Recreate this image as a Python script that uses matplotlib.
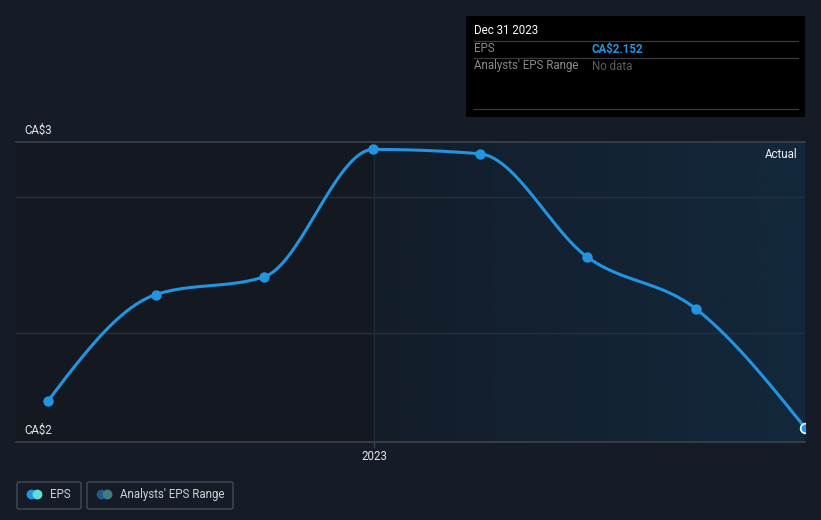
import numpy as np
import matplotlib
matplotlib.use("Agg")
import matplotlib.pyplot as plt
import matplotlib.dates as mdates
from datetime import datetime
from matplotlib.patches import Rectangle, FancyBboxPatch, Circle
from matplotlib.colors import LinearSegmentedColormap

plt.rcParams['font.family'] = ['Roboto', 'DejaVu Sans']

# ---- data ----
dates = ["2022-03-31", "2022-06-30", "2022-09-30", "2022-12-31",
         "2023-03-31", "2023-06-30", "2023-09-30", "2023-12-31"]
eps = [2.25, 2.641, 2.707, 3.175, 3.159, 2.779, 2.588, 2.152]
tick_labels = ["2023"]
y_labels = ["CA$3", "CA$2"]

W, H = 821, 520
fig = plt.figure(figsize=(W / 100, H / 100), dpi=100)
fig.patch.set_facecolor("#161c27")

def fx(px):
    return px / W
def fy(py):
    return 1 - py / H

L, R, T, B = 16, 805, 142, 442
ax = fig.add_axes([fx(L), fy(B), (R - L) / W, (B - T) / H])
ax.set_facecolor("#141921")

xd = np.array([mdates.date2num(datetime.strptime(d, "%Y-%m-%d")) for d in dates])
yv = np.array(eps)

xmin = mdates.date2num(datetime(2022, 3, 4))
xmax = mdates.date2num(datetime(2023, 12, 31))
ymin, ymax = 2.0993, 3.2022
ax.set_xlim(xmin, xmax)
ax.set_ylim(ymin, ymax)

# shaded "actual" region with gradient
x23 = mdates.date2num(datetime(2023, 1, 1))
grad = np.linspace(0, 1, 256).reshape(1, -1)
cmap = LinearSegmentedColormap.from_list("g", ["#131d2a", "#13283c"])
ax.imshow(grad, extent=[x23, xmax, ymin, ymax], aspect="auto", cmap=cmap, zorder=0.5)
ax.axvline(x23, color="#1f2a36", lw=1, zorder=0.6)

# gridlines
for v in [2.5, 3.0]:
    ax.axhline(v, color="#27303b", lw=1, zorder=0.7)
ax.axhline(ymax, color="#3d434c", lw=1.2, zorder=0.8, clip_on=False)
ax.axhline(ymin, color="#3d434c", lw=1.2, zorder=0.8, clip_on=False)

# monotone cubic (d3 monotoneX)
n = len(xd)
h = np.diff(xd)
s = np.diff(yv) / h
t = np.zeros(n)
for i in range(1, n - 1):
    p = (s[i - 1] * h[i] + s[i] * h[i - 1]) / (h[i - 1] + h[i])
    t[i] = (np.sign(s[i - 1]) + np.sign(s[i])) * min(abs(s[i - 1]), abs(s[i]), 0.5 * abs(p))
t[0] = (3 * s[0] - t[1]) / 2
t[-1] = (3 * s[-1] - t[-2]) / 2
xs, ys = [], []
for i in range(n - 1):
    u = np.linspace(0, 1, 60)
    h00 = 2 * u**3 - 3 * u**2 + 1
    h10 = u**3 - 2 * u**2 + u
    h01 = -2 * u**3 + 3 * u**2
    h11 = u**3 - u**2
    xs.append(xd[i] + u * h[i])
    ys.append(h00 * yv[i] + h10 * h[i] * t[i] + h01 * yv[i + 1] + h11 * h[i] * t[i + 1])
xs = np.concatenate(xs)
ys = np.concatenate(ys)

blue = "#2394df"
ax.plot(xs, ys, color=blue, lw=2.2, zorder=3, solid_capstyle="round")
ax.plot(xd[:-1], yv[:-1], "o", color=blue, ms=6.5, zorder=4)
last, = ax.plot(xd[-1:], yv[-1:], "o", color=blue, mec="white", mew=1.2, ms=7, zorder=5)
clip_rect = Rectangle((0, 0), 1, 1, transform=ax.transAxes)
last.set_clip_path(clip_rect)

ax.set_xticks([x23])
ax.set_xticklabels(tick_labels)
ax.tick_params(axis="x", colors="#3d434c", labelcolor="#e6e6e6", length=4, width=1, labelsize=8.3, pad=2)
ax.set_yticks([])
for sp in ax.spines.values():
    sp.set_visible(False)

# y labels
fig.text(fx(24), fy(130), y_labels[0], color="#e6e6e6", fontsize=8.3, va="center", ha="left")
fig.text(fx(24), fy(430), y_labels[1], color="#e6e6e6", fontsize=8.3, va="center", ha="left")
fig.text(fx(797), fy(154), "Actual", color="#f0f0f0", fontsize=8.3, va="center", ha="right")

# tooltip
fig.patches.append(Rectangle((fx(466), fy(117)), (805 - 466) / W, (117 - 16) / H,
                             transform=fig.transFigure, facecolor="#000000", edgecolor="none", zorder=10))
for yy in [41, 58, 109]:
    fig.lines.append(plt.Line2D([fx(474), fx(798)], [fy(yy), fy(yy)], transform=fig.transFigure,
                                color="#3a3a3a", lw=0.9, zorder=11))
fig.text(fx(474), fy(31), "Dec 31 2023", color="#ffffff", fontsize=8.3, va="center", ha="left", zorder=12)
fig.text(fx(474), fy(49), "EPS", color="#8a8a8a", fontsize=8.3, va="center", ha="left", zorder=12)
fig.text(fx(592), fy(49), "CA$2.152", color=blue, fontsize=8.3, va="center", ha="left",
         fontweight="bold", zorder=12)
fig.text(fx(474), fy(66), "Analysts' EPS Range", color="#8a8a8a", fontsize=8.3, va="center", ha="left", zorder=12)
fig.text(fx(592), fy(66), "No data", color="#5e5e5e", fontsize=8.3, va="center", ha="left", zorder=12)

# legend
def legbox(x0, x1, c1, c2, label):
    fig.patches.append(FancyBboxPatch((fx(x0), fy(509)), (x1 - x0) / W, 27 / H,
                                      boxstyle="round,pad=0,rounding_size=0.003",
                                      transform=fig.transFigure, facecolor="none",
                                      edgecolor="#454b55", lw=1, zorder=10))
    axl = fig.add_axes([fx(x0), fy(509), (x1 - x0) / W, 27 / H])
    axl.set_xlim(0, x1 - x0)
    axl.set_ylim(27, 0)
    axl.axis("off")
    axl.patch.set_alpha(0)
    axl.add_patch(Circle((14.5, 12.5), 4.2, color=c1, zorder=2))
    axl.add_patch(Circle((20.5, 12.5), 4.2, color=c2, zorder=3))
    axl.set_aspect("equal")
    axl.text(33, 12.5, label, color="#d0d0d0", fontsize=8.3, va="center", ha="left")

legbox(17, 81, "#2394df", "#5ce1d6", "EPS")
legbox(87, 233, "#1f5a8a", "#3d7f80", "Analysts' EPS Range")

fig.savefig("out.png", dpi=100, facecolor=fig.get_facecolor())
